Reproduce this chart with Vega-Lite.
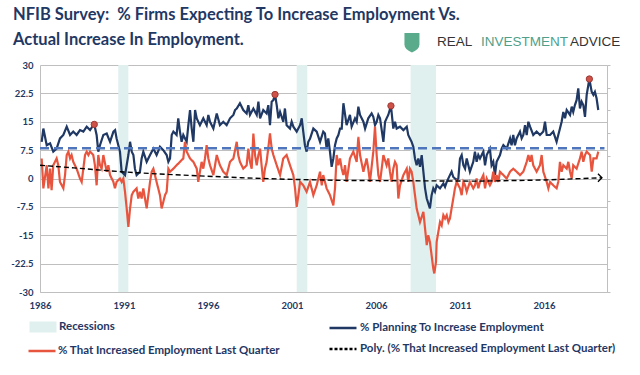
{
"$schema": "https://vega.github.io/schema/vega-lite/v6.json",
"width": 567, "height": 227,
"autosize": "none",
"padding": {"left": 40, "top": 65, "right": 33, "bottom": 83},
"background": "white",
"config": {"view": {"stroke": null}, "font": "Lato"},
"title": {"text": ["NFIB Survey:\u00a0 % Firms Expecting To Increase Employment Vs.", "Actual Increase In Employment."], "anchor": "start", "frame": "group", "dx": -27, "offset": -16, "fontSize": 16.5, "font": "Lato", "fontWeight": "bold", "color": "#1f3864", "lineHeight": 25},
"datasets": {
"recessions": [{"start": 1990.66, "end": 1991.26}, {"start": 2001.28, "end": 2001.91}, {"start": 2008.06, "end": 2009.57}],
"average": [{"start": 1986, "end": 2019.6, "y": 8}],
"peaks": [{"year": 1989.23, "value": 14.3}, {"year": 1999.99, "value": 22.2}, {"year": 2006.89, "value": 19.2}, {"year": 2018.7, "value": 26.3}],
"poly": [{"year": 1986, "value": 3.5}, {"year": 1988, "value": 2.8}, {"year": 1990.8, "value": 1.8}, {"year": 1993, "value": 1.2}, {"year": 1995.5, "value": 0.7}, {"year": 1998, "value": 0.2}, {"year": 2000.7, "value": -0.2}, {"year": 2004, "value": -0.5}, {"year": 2008, "value": -0.6}, {"year": 2012, "value": -0.7}, {"year": 2016, "value": -0.4}, {"year": 2019.45, "value": 0.2}],
"planning": [
{"year":1986.1,"value":9.7},{"year":1986.2,"value":13.2},{"year":1986.4,"value":8.8},{"year":1986.6,"value":9.3},{"year":1986.79,"value":7.1},{"year":1986.99,"value":7.9},{"year":1987.19,"value":10.6},{"year":1987.39,"value":11.5},{"year":1987.59,"value":13.7},{"year":1987.79,"value":11.5},{"year":1987.98,"value":12.4},{"year":1988.18,"value":11.5},{"year":1988.38,"value":12.8},{"year":1988.58,"value":12.4},{"year":1988.78,"value":13.7},{"year":1988.98,"value":12.8},{"year":1989.17,"value":14.1},{"year":1989.23,"value":14.3},{"year":1989.37,"value":11.5},{"year":1989.47,"value":7.1},{"year":1989.57,"value":8.8},{"year":1989.77,"value":11.5},{"year":1989.97,"value":11.9},{"year":1990.17,"value":9.7},{"year":1990.37,"value":12.4},{"year":1990.47,"value":12.8},{"year":1990.56,"value":10.6},{"year":1990.76,"value":7.1},{"year":1990.86,"value":1.8},{"year":1991.06,"value":0.9},{"year":1991.26,"value":6.2},{"year":1991.36,"value":9.7},{"year":1991.46,"value":7.1},{"year":1991.56,"value":6.2},{"year":1991.65,"value":2.6},{"year":1991.75,"value":0.9},{"year":1991.95,"value":1.8},{"year":1992.05,"value":5.3},{"year":1992.15,"value":7.1},{"year":1992.35,"value":4.4},{"year":1992.55,"value":6.2},{"year":1992.75,"value":7.9},{"year":1992.94,"value":6.2},{"year":1993.14,"value":8.4},{"year":1993.34,"value":7.5},{"year":1993.54,"value":6.2},{"year":1993.64,"value":4.4},{"year":1993.74,"value":5.3},{"year":1993.84,"value":11.5},{"year":1993.94,"value":12.4},{"year":1994.13,"value":11.5},{"year":1994.23,"value":15.9},{"year":1994.33,"value":12.4},{"year":1994.43,"value":9.7},{"year":1994.53,"value":11.5},{"year":1994.73,"value":9.7},{"year":1994.83,"value":14.1},{"year":1994.93,"value":18.1},{"year":1995.03,"value":13.2},{"year":1995.13,"value":9.7},{"year":1995.23,"value":18.1},{"year":1995.33,"value":15.9},{"year":1995.52,"value":14.1},{"year":1995.72,"value":15.9},{"year":1995.92,"value":14.1},{"year":1996.02,"value":16.8},{"year":1996.12,"value":15.0},{"year":1996.32,"value":13.2},{"year":1996.52,"value":17.2},{"year":1996.71,"value":14.1},{"year":1996.91,"value":15.0},{"year":1997.11,"value":14.1},{"year":1997.31,"value":15.9},{"year":1997.51,"value":16.8},{"year":1997.61,"value":18.1},{"year":1997.71,"value":18.5},{"year":1997.9,"value":19.9},{"year":1998.1,"value":18.1},{"year":1998.3,"value":17.2},{"year":1998.4,"value":19.4},{"year":1998.5,"value":16.8},{"year":1998.7,"value":18.5},{"year":1998.9,"value":16.8},{"year":1999.0,"value":20.3},{"year":1999.1,"value":15.9},{"year":1999.29,"value":18.1},{"year":1999.49,"value":17.2},{"year":1999.59,"value":19.4},{"year":1999.69,"value":14.1},{"year":1999.79,"value":20.3},{"year":1999.89,"value":20.7},{"year":1999.99,"value":22.2},{"year":2000.09,"value":19.4},{"year":2000.19,"value":15.9},{"year":2000.29,"value":17.6},{"year":2000.48,"value":15.0},{"year":2000.58,"value":18.5},{"year":2000.68,"value":14.1},{"year":2000.88,"value":13.2},{"year":2000.98,"value":15.0},{"year":2001.08,"value":13.7},{"year":2001.28,"value":12.4},{"year":2001.48,"value":14.1},{"year":2001.58,"value":15.9},{"year":2001.67,"value":12.4},{"year":2001.77,"value":8.8},{"year":2001.87,"value":7.1},{"year":2001.97,"value":9.7},{"year":2002.07,"value":10.5},
{"year":2002.27,"value":13.2},{"year":2002.47,"value":12.4},{"year":2002.67,"value":9.7},{"year":2002.86,"value":12.4},{"year":2002.96,"value":11.9},{"year":2003.06,"value":7.9},{"year":2003.16,"value":10.6},{"year":2003.26,"value":7.1},{"year":2003.36,"value":3.1},{"year":2003.46,"value":5.3},{"year":2003.56,"value":8.8},{"year":2003.66,"value":10.6},{"year":2003.76,"value":11.5},{"year":2003.86,"value":13.2},{"year":2003.96,"value":13.2},{"year":2004.06,"value":19.9},{"year":2004.25,"value":14.1},{"year":2004.45,"value":16.8},{"year":2004.55,"value":13.7},{"year":2004.75,"value":15.9},{"year":2004.85,"value":15.0},{"year":2004.95,"value":19.0},{"year":2005.05,"value":16.8},{"year":2005.25,"value":15.0},{"year":2005.35,"value":13.2},{"year":2005.54,"value":15.9},{"year":2005.74,"value":17.2},{"year":2005.84,"value":16.3},{"year":2005.94,"value":14.1},{"year":2006.04,"value":15.0},{"year":2006.14,"value":16.8},{"year":2006.24,"value":15.9},{"year":2006.44,"value":9.7},{"year":2006.54,"value":15.0},{"year":2006.63,"value":15.9},{"year":2006.73,"value":16.8},{"year":2006.89,"value":19.2},{"year":2007.03,"value":13.2},{"year":2007.13,"value":15.0},{"year":2007.23,"value":13.2},{"year":2007.43,"value":13.7},{"year":2007.63,"value":12.8},{"year":2007.83,"value":13.7},{"year":2007.92,"value":11.5},{"year":2008.02,"value":10.6},{"year":2008.12,"value":9.7},{"year":2008.22,"value":8.4},{"year":2008.32,"value":5.3},{"year":2008.42,"value":3.5},{"year":2008.52,"value":5.3},{"year":2008.62,"value":3.1},{"year":2008.72,"value":6.2},{"year":2008.82,"value":1.8},{"year":2008.92,"value":-2.6},{"year":2009.02,"value":-5.3},{"year":2009.21,"value":-7.9},{"year":2009.31,"value":-4.4},{"year":2009.41,"value":-2.6},{"year":2009.51,"value":-3.5},{"year":2009.61,"value":-1.8},{"year":2009.81,"value":-2.6},{"year":2010.01,"value":-1.3},{"year":2010.11,"value":-2.2},{"year":2010.21,"value":-0.9},{"year":2010.4,"value":0.9},{"year":2010.5,"value":1.8},{"year":2010.6,"value":0.4},{"year":2010.8,"value":-0.4},{"year":2010.9,"value":0.0},{"year":2011.0,"value":5.3},{"year":2011.1,"value":6.2},{"year":2011.2,"value":3.5},{"year":2011.3,"value":2.6},{"year":2011.4,"value":5.3},{"year":2011.59,"value":1.8},{"year":2011.79,"value":4.4},{"year":2011.89,"value":7.1},{"year":2011.99,"value":4.4},{"year":2012.09,"value":6.2},{"year":2012.19,"value":5.3},{"year":2012.39,"value":7.1},{"year":2012.49,"value":3.5},{"year":2012.59,"value":6.2},{"year":2012.78,"value":7.9},{"year":2012.88,"value":3.5},{"year":2012.98,"value":4.4},{"year":2013.08,"value":0.9},{"year":2013.18,"value":4.4},{"year":2013.38,"value":6.2},{"year":2013.48,"value":7.9},{"year":2013.58,"value":8.8},{"year":2013.78,"value":7.9},{"year":2013.98,"value":10.6},{"year":2014.07,"value":8.8},{"year":2014.17,"value":11.5},{"year":2014.27,"value":8.8},{"year":2014.37,"value":10.6},{"year":2014.57,"value":12.4},{"year":2014.67,"value":10.6},{"year":2014.77,"value":11.5},{"year":2014.87,"value":14.1},{"year":2014.97,"value":11.5},{"year":2015.07,"value":15.0},{"year":2015.17,"value":13.7},{"year":2015.36,"value":11.5},{"year":2015.56,"value":12.4},{"year":2015.76,"value":11.5},{"year":2015.96,"value":12.4},{"year":2016.06,"value":15.0},{"year":2016.16,"value":11.5},{"year":2016.36,"value":11.5},{"year":2016.55,"value":12.4},{"year":2016.75,"value":9.7},{"year":2016.85,"value":11.5},{"year":2016.95,"value":13.2},{"year":2017.05,"value":15.0},{"year":2017.15,"value":17.6},{"year":2017.25,"value":15.9},{"year":2017.35,"value":18.1},{"year":2017.55,"value":16.8},{"year":2017.65,"value":19.0},{"year":2017.74,"value":17.6},{"year":2017.84,"value":19.4},{"year":2017.94,"value":20.7},{"year":2018.04,"value":23.8},{"year":2018.14,"value":18.5},{"year":2018.24,"value":20.3},{"year":2018.34,"value":19.4},{"year":2018.44,"value":16.3},{"year":2018.54,"value":22.1},{"year":2018.64,"value":24.7},{"year":2018.7,"value":26.3},{"year":2018.84,"value":22.9},{"year":2018.94,"value":22.1},{"year":2019.03,"value":22.9},{"year":2019.13,"value":21.2},{"year":2019.23,"value":18.1}
],
"increased": [
{"year":1986.1,"value":5.3},{"year":1986.2,"value":-2.6},{"year":1986.4,"value":3.5},{"year":1986.5,"value":-2.6},{"year":1986.6,"value":2.6},{"year":1986.69,"value":-3.1},{"year":1986.79,"value":3.5},{"year":1986.99,"value":5.3},{"year":1987.09,"value":3.5},{"year":1987.19,"value":-0.9},{"year":1987.39,"value":-2.6},{"year":1987.49,"value":0.9},{"year":1987.59,"value":6.2},{"year":1987.69,"value":7.1},{"year":1987.79,"value":5.3},{"year":1987.88,"value":6.2},{"year":1987.98,"value":4.4},{"year":1988.18,"value":2.6},{"year":1988.38,"value":0.0},{"year":1988.48,"value":-0.9},{"year":1988.58,"value":2.6},{"year":1988.68,"value":6.2},{"year":1988.78,"value":7.1},{"year":1988.88,"value":6.2},{"year":1988.98,"value":7.1},{"year":1989.17,"value":6.2},{"year":1989.27,"value":3.5},{"year":1989.37,"value":-1.8},{"year":1989.47,"value":6.2},{"year":1989.57,"value":3.5},{"year":1989.67,"value":2.6},{"year":1989.77,"value":6.2},{"year":1989.97,"value":1.8},{"year":1990.07,"value":3.5},{"year":1990.17,"value":0.9},{"year":1990.37,"value":-0.9},{"year":1990.46,"value":-2.6},{"year":1990.56,"value":-0.9},{"year":1990.76,"value":0.0},{"year":1990.86,"value":-0.9},{"year":1990.96,"value":0.0},{"year":1991.06,"value":-3.5},{"year":1991.16,"value":-7.9},{"year":1991.26,"value":-12.8},{"year":1991.36,"value":-7.9},{"year":1991.46,"value":-4.4},{"year":1991.56,"value":-3.5},{"year":1991.75,"value":-2.6},{"year":1991.85,"value":-5.3},{"year":1991.95,"value":-3.5},{"year":1992.05,"value":-5.3},{"year":1992.15,"value":-2.6},{"year":1992.25,"value":-5.3},{"year":1992.35,"value":-7.9},{"year":1992.45,"value":-4.4},{"year":1992.55,"value":-0.9},{"year":1992.65,"value":1.8},{"year":1992.75,"value":2.6},{"year":1992.94,"value":-0.9},{"year":1993.14,"value":-4.4},{"year":1993.24,"value":-7.9},{"year":1993.34,"value":-6.2},{"year":1993.44,"value":-4.4},{"year":1993.54,"value":-3.5},{"year":1993.64,"value":2.6},{"year":1993.74,"value":1.8},{"year":1993.94,"value":2.6},{"year":1994.13,"value":3.5},{"year":1994.33,"value":4.4},{"year":1994.53,"value":5.3},{"year":1994.63,"value":9.7},{"year":1994.73,"value":7.1},{"year":1994.93,"value":5.3},{"year":1995.13,"value":4.4},{"year":1995.33,"value":2.6},{"year":1995.42,"value":-0.9},{"year":1995.52,"value":1.8},{"year":1995.62,"value":4.4},{"year":1995.72,"value":2.6},{"year":1995.82,"value":5.3},{"year":1995.92,"value":8.8},{"year":1996.02,"value":5.3},{"year":1996.12,"value":3.5},{"year":1996.32,"value":0.9},{"year":1996.42,"value":3.5},{"year":1996.52,"value":6.2},{"year":1996.71,"value":3.5},{"year":1996.91,"value":1.8},{"year":1997.11,"value":0.9},{"year":1997.31,"value":4.4},{"year":1997.51,"value":5.3},{"year":1997.71,"value":9.7},{"year":1997.8,"value":6.2},{"year":1997.9,"value":4.4},{"year":1998.1,"value":2.6},{"year":1998.3,"value":3.5},{"year":1998.4,"value":7.9},{"year":1998.5,"value":4.4},{"year":1998.6,"value":2.6},{"year":1998.7,"value":11.9},{"year":1998.8,"value":6.2},{"year":1998.9,"value":3.5},{"year":1999.0,"value":6.2},{"year":1999.1,"value":7.9},{"year":1999.19,"value":3.5},{"year":1999.29,"value":-0.9},{"year":1999.39,"value":2.6},{"year":1999.49,"value":4.4},{"year":1999.69,"value":11.9},{"year":1999.79,"value":7.9},{"year":1999.89,"value":6.2},{"year":2000.09,"value":3.5},{"year":2000.29,"value":0.9},{"year":2000.48,"value":5.3},{"year":2000.68,"value":6.2},{"year":2000.88,"value":3.5},{"year":2001.08,"value":0.9},{"year":2001.18,"value":-2.6},{"year":2001.28,"value":-7.5},{"year":2001.38,"value":-4.4},{"year":2001.48,"value":-0.9},{"year":2001.67,"value":-1.8},{"year":2001.87,"value":-3.5},
{"year":2002.07,"value":-0.9},{"year":2002.27,"value":-4.4},{"year":2002.47,"value":-1.8},{"year":2002.67,"value":1.8},{"year":2002.77,"value":-1.8},{"year":2002.86,"value":0.9},{"year":2003.06,"value":-2.6},{"year":2003.26,"value":-4.4},{"year":2003.46,"value":-7.1},{"year":2003.56,"value":-2.6},{"year":2003.66,"value":6.2},{"year":2003.76,"value":3.5},{"year":2003.86,"value":5.3},{"year":2003.96,"value":2.6},{"year":2004.06,"value":0.9},{"year":2004.16,"value":3.5},{"year":2004.25,"value":-0.9},{"year":2004.45,"value":5.3},{"year":2004.65,"value":7.1},{"year":2004.85,"value":4.4},{"year":2004.95,"value":11.0},{"year":2005.05,"value":6.2},{"year":2005.25,"value":1.8},{"year":2005.44,"value":5.3},{"year":2005.54,"value":2.6},{"year":2005.64,"value":-0.9},{"year":2005.84,"value":7.1},{"year":2005.94,"value":13.7},{"year":2006.04,"value":6.2},{"year":2006.14,"value":0.9},{"year":2006.24,"value":-0.9},{"year":2006.44,"value":6.2},{"year":2006.63,"value":3.5},{"year":2006.73,"value":5.3},{"year":2006.83,"value":1.8},{"year":2006.93,"value":-0.9},{"year":2007.03,"value":2.6},{"year":2007.13,"value":4.4},{"year":2007.23,"value":3.5},{"year":2007.33,"value":-5.3},{"year":2007.43,"value":-1.8},{"year":2007.63,"value":0.9},{"year":2007.83,"value":2.6},{"year":2007.92,"value":-0.9},{"year":2008.02,"value":2.6},{"year":2008.12,"value":1.8},{"year":2008.22,"value":-0.9},{"year":2008.32,"value":-4.4},{"year":2008.42,"value":-7.9},{"year":2008.52,"value":-9.7},{"year":2008.62,"value":-11.5},{"year":2008.82,"value":-8.8},{"year":2008.92,"value":-13.2},{"year":2009.02,"value":-17.6},{"year":2009.11,"value":-15.0},{"year":2009.21,"value":-16.8},{"year":2009.31,"value":-20.3},{"year":2009.41,"value":-23.8},{"year":2009.47,"value":-25.1},{"year":2009.57,"value":-22.1},{"year":2009.61,"value":-16.8},{"year":2009.71,"value":-14.1},{"year":2009.81,"value":-11.5},{"year":2009.91,"value":-12.4},{"year":2010.01,"value":-9.7},{"year":2010.11,"value":-10.6},{"year":2010.21,"value":-9.7},{"year":2010.31,"value":-11.5},{"year":2010.4,"value":-10.6},{"year":2010.5,"value":-7.9},{"year":2010.6,"value":-5.3},{"year":2010.7,"value":-2.6},{"year":2010.8,"value":-0.9},{"year":2011.0,"value":-2.6},{"year":2011.1,"value":-4.4},{"year":2011.2,"value":-0.9},{"year":2011.3,"value":-1.8},{"year":2011.4,"value":-3.5},{"year":2011.59,"value":-0.9},{"year":2011.79,"value":-2.6},{"year":2011.89,"value":-1.8},{"year":2011.99,"value":0.0},{"year":2012.09,"value":-2.6},{"year":2012.19,"value":-0.9},{"year":2012.39,"value":0.9},{"year":2012.49,"value":-2.6},{"year":2012.59,"value":0.0},{"year":2012.78,"value":-1.8},{"year":2012.88,"value":-0.9},{"year":2012.98,"value":1.8},{"year":2013.08,"value":-0.9},{"year":2013.18,"value":0.9},{"year":2013.28,"value":-0.9},{"year":2013.38,"value":1.8},{"year":2013.58,"value":0.9},{"year":2013.78,"value":0.0},{"year":2013.98,"value":1.8},{"year":2014.17,"value":2.6},{"year":2014.37,"value":1.8},{"year":2014.57,"value":0.9},{"year":2014.77,"value":1.8},{"year":2014.97,"value":4.4},{"year":2015.07,"value":6.2},{"year":2015.17,"value":4.4},{"year":2015.26,"value":6.2},{"year":2015.36,"value":3.5},{"year":2015.56,"value":1.8},{"year":2015.76,"value":3.5},{"year":2015.86,"value":6.2},{"year":2015.96,"value":1.8},{"year":2016.16,"value":-0.9},{"year":2016.26,"value":-2.6},{"year":2016.36,"value":-0.9},{"year":2016.55,"value":-1.8},{"year":2016.75,"value":-2.6},{"year":2016.85,"value":-0.9},{"year":2016.95,"value":4.4},{"year":2017.05,"value":1.8},{"year":2017.15,"value":3.5},{"year":2017.35,"value":2.6},{"year":2017.45,"value":4.4},{"year":2017.55,"value":1.8},{"year":2017.65,"value":0.0},{"year":2017.74,"value":3.5},{"year":2017.94,"value":2.6},{"year":2018.14,"value":5.3},{"year":2018.24,"value":7.1},{"year":2018.34,"value":4.4},{"year":2018.44,"value":6.2},{"year":2018.54,"value":7.1},{"year":2018.74,"value":6.2},{"year":2018.84,"value":1.8},{"year":2018.94,"value":5.3},{"year":2019.13,"value":5.3},{"year":2019.23,"value":7.1}
]
},
"layer": [
{
"layer": [
{"data": {"name": "recessions"}, "mark": {"type": "rect"},
 "encoding": {
  "x": {"field": "start", "type": "quantitative", "scale": {"domain": [1986, 2019.75], "nice": false, "zero": false},
   "axis": {"values": [1986, 1991, 1996, 2001, 2006, 2011, 2016], "tickCount": 20, "format": "d", "title": null, "grid": false, "ticks": false, "domain": true, "domainColor": "#bfbfbf", "labelFont": "Lato", "labelFontWeight": "bold", "labelFontSize": 9.5, "labelColor": "#1f3864", "labelPadding": 8, "labelFlush": false}},
  "x2": {"field": "end"},
  "color": {"datum": "Recessions", "type": "nominal",
   "scale": {"domain": ["Recessions"], "range": ["#dff0ee"]},
   "legend": {"orient": "none", "legendX": -16, "legendY": 243, "direction": "vertical", "title": null, "symbolType": "stroke", "symbolSize": 729, "symbolStrokeWidth": 2.5, "labelFont": "Lato", "labelFontWeight": "bold", "labelFontSize": 11.5, "labelColor": "#1f3864", "labelLimit": 400, "labelOffset": -3,
    "encode": {"symbols": {"update": {"stroke": {"value": "#dff0ee"}, "strokeWidth": {"value": 11}, "opacity": {"value": 1}}}}}
  }
 }
},
{"data": {"name": "planning"}, "mark": {"type": "line", "strokeWidth": 2.2},
 "encoding": {
  "x": {"field": "year", "type": "quantitative"},
  "y": {"field": "value", "type": "quantitative", "scale": {"domain": [-30, 30], "nice": false, "zero": false},
   "axis": {"values": [-30, -22.5, -15, -7.5, 0, 7.5, 15, 22.5, 30], "tickCount": 20, "title": null, "grid": true, "gridColor": "#bfbfbf", "gridWidth": 1, "ticks": false, "domain": true, "domainColor": "#bfbfbf", "labelPadding": 7, "labelOverlap": false, "labelFont": "Lato", "labelFontWeight": "bold", "labelFontSize": 9.5, "labelColor": "#1f3864", "labelExpr": "replace(format(datum.value, '~g'), '\u2212', '-')"}},
  "stroke": {"datum": "% Planning To Increase Employment", "type": "nominal",
   "scale": {"domain": ["% Planning To Increase Employment", "Poly. (% That Increased Employment Last Quarter)"], "range": ["#1f3864", "#000000"]},
   "legend": {"orient": "none", "legendX": 288, "legendY": 248, "direction": "vertical", "title": null, "symbolType": "stroke", "symbolSize": 729, "symbolStrokeWidth": 2.5, "labelFont": "Lato", "labelFontWeight": "bold", "labelFontSize": 11.5, "labelColor": "#1f3864", "labelLimit": 400, "labelOffset": 2, "rowPadding": -4,
    "encode": {"symbols": {"update": {"stroke": {"scale": "stroke", "field": "value"}, "strokeWidth": {"value": 2.5}, "strokeDash": {"signal": "indexof(datum.value, 'Poly') === 0 ? [3, 2] : [1, 0]"}, "opacity": {"value": 1}}}}}
  }
 }
},
{"data": {"name": "increased"}, "mark": {"type": "line", "strokeWidth": 2.2, "color": "#e8553f"},
 "encoding": {
  "x": {"field": "year", "type": "quantitative"},
  "y": {"field": "value", "type": "quantitative"},
  "strokeDash": {"datum": "% That Increased Employment Last Quarter", "type": "nominal",
   "scale": {"domain": ["% That Increased Employment Last Quarter"], "range": [[1, 0]]},
   "legend": {"orient": "none", "legendX": -13, "legendY": 271, "direction": "vertical", "title": null, "symbolType": "stroke", "symbolSize": 729, "symbolStrokeWidth": 2.5, "labelFont": "Lato", "labelFontWeight": "bold", "labelFontSize": 11.5, "labelColor": "#1f3864", "labelLimit": 400, "labelOffset": 1,
    "encode": {"symbols": {"update": {"stroke": {"value": "#e8553f"}, "strokeWidth": {"value": 2.5}, "opacity": {"value": 1}}}}}
  }
 }
},
{"data": {"name": "poly"}, "mark": {"type": "line", "strokeWidth": 1.4, "strokeDash": [5, 3]},
 "encoding": {
  "x": {"field": "year", "type": "quantitative"},
  "y": {"field": "value", "type": "quantitative"},
  "stroke": {"datum": "Poly. (% That Increased Employment Last Quarter)", "type": "nominal"}
 }
},
{"data": {"name": "poly"}, "transform": [{"filter": "datum.year > 2019"}],
 "mark": {"type": "point", "shape": "M-1,-1L0,0L-1,1", "filled": false, "size": 64, "stroke": "#000000", "strokeWidth": 1.3, "opacity": 1},
 "encoding": {"x": {"field": "year", "type": "quantitative"}, "y": {"field": "value", "type": "quantitative"}}
},
{"data": {"name": "peaks"}, "mark": {"type": "point", "filled": true, "size": 40, "fill": "#cf5248", "stroke": "#9e3b36", "strokeWidth": 1, "opacity": 1},
 "encoding": {"x": {"field": "year", "type": "quantitative"}, "y": {"field": "value", "type": "quantitative"}}
},
{"data": {"values": [{}]}, "mark": {"type": "point", "shape": "M-1,-1.2L1,-1.2L1,0.3Q1,1.0 0,1.4Q-1,1.0 -1,0.3Z", "filled": true, "size": 225, "fill": "#5aaa8c", "opacity": 1, "clip": false},
 "encoding": {"x": {"datum": 2008.14}, "y": {"datum": 36.1}}
},
{"data": {"values": [{}]}, "mark": {"type": "text", "align": "left", "baseline": "middle", "font": "Liberation Sans", "fontSize": 13.5, "color": "#333333", "clip": false},
 "encoding": {"x": {"datum": 2009.63}, "y": {"datum": 36.0}, "text": {"value": "REAL"}}
},
{"data": {"values": [{}]}, "mark": {"type": "text", "align": "left", "baseline": "middle", "font": "Liberation Sans", "fontSize": 13.5, "color": "#4f9f8a", "clip": false},
 "encoding": {"x": {"datum": 2012.25}, "y": {"datum": 36.0}, "text": {"value": "INVESTMENT"}}
},
{"data": {"values": [{}]}, "mark": {"type": "text", "align": "left", "baseline": "middle", "font": "Liberation Sans", "fontSize": 13.5, "color": "#333333", "clip": false},
 "encoding": {"x": {"datum": 2017.55}, "y": {"datum": 36.0}, "text": {"value": "ADVICE"}}
}
]
},
{"data": {"name": "average"}, "mark": {"type": "rule", "color": "#4f76bd", "strokeWidth": 2.5, "strokeDash": [9, 5]},
 "encoding": {
  "x": {"field": "start", "type": "quantitative"},
  "x2": {"field": "end"},
  "y": {"field": "y", "type": "quantitative",
   "axis": {"orient": "right", "values": [-30, -24, -18, -12, -6, 0, 6, 12, 18, 24, 30], "tickCount": 20, "labels": false, "ticks": true, "tickSize": 3, "tickColor": "#bfbfbf", "domain": true, "domainColor": "#bfbfbf", "grid": false, "title": null}}
 }
}
],
"resolve": {"axis": {"y": "independent"}}
}
